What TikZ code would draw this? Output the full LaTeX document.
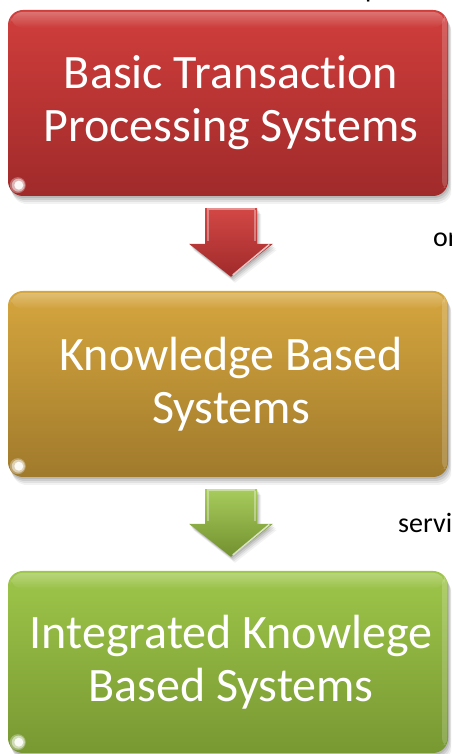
\documentclass[tikz,border=0pt]{standalone}
\usepackage{fontspec}
\setmainfont{Carlito}[Ligatures=NoCommon]
\usetikzlibrary{calc,fadings}

\definecolor{redTop}{RGB}{208,62,60}
\definecolor{redBot}{RGB}{160,42,42}
\definecolor{goldTop}{RGB}{214,166,62}
\definecolor{goldBot}{RGB}{160,122,44}
\definecolor{greenTop}{RGB}{158,198,74}
\definecolor{greenBot}{RGB}{120,152,50}

\tikzset{
  stage/.style={
    rounded corners=15pt, minimum width=440pt, inner sep=0pt,
    preaction={fill=black,opacity=.05,transform canvas={xshift=4pt,yshift=-8pt}},
    preaction={fill=black,opacity=.07,transform canvas={xshift=3pt,yshift=-6pt}},
    preaction={fill=black,opacity=.09,transform canvas={xshift=2pt,yshift=-4pt}},
    preaction={fill=black,opacity=.10,transform canvas={xshift=1pt,yshift=-2pt}},
  },
  stagetext/.style={text=white, align=center, inner sep=0pt,
    font=\fontsize{48}{53}\selectfont, xshift=3pt},
  backword/.style={font=\fontsize{28}{32}\selectfont, text=black, inner sep=0pt, anchor=base west},
}

% glossy trim drawn over a stage box
\newcommand\stagegloss[1]{%
  \fill[white,opacity=.28,path fading=south,rounded corners=12pt]
    ($(#1.north west)+(3,-2)$) rectangle ($(#1.north east)+(-3,-18)$);
  \fill[white,opacity=.18,rounded corners=6pt]
    ($(#1.north east)+(-6,-6)$) rectangle ($(#1.south east)+(-1,8)$);
  \fill[white,opacity=.3] ($(#1.south west)+(10,11)$) circle (8pt);
  \fill[white,opacity=.5] ($(#1.south west)+(10.5,11)$) circle (6.5pt);
  \fill[white,opacity=.9] ($(#1.south west)+(11,11)$) circle (4.5pt);
}

% block arrow running from one stage box down to the next
\newcommand\flowarrow[4]{%
  \coordinate (#1-tail) at ($(#1.south)+(3,-12)$);
  \coordinate (#1-tip) at ($(#2.north)+(3,14)$);
  \foreach \d/\o in {4/.05,3/.07,2/.09,1/.1}{
    \fill[black,opacity=\o,transform canvas={xshift=\d pt,yshift=-1.5*\d pt}]
      ($(#1-tail)+(-26,0)$) -- ($(#1-tail)+(26,0)$) -- ($(#1-tip)+(26,33)$) --
      ($(#1-tip)+(42,33)$) -- (#1-tip) -- ($(#1-tip)+(-42,33)$) --
      ($(#1-tip)+(-26,33)$) -- cycle;
  }
  \shade[top color=#3,bottom color=#4]
    ($(#1-tail)+(-26,0)$) -- ($(#1-tail)+(26,0)$) -- ($(#1-tip)+(26,33)$) --
    ($(#1-tip)+(42,33)$) -- (#1-tip) -- ($(#1-tip)+(-42,33)$) --
    ($(#1-tip)+(-26,33)$) -- cycle;
  \draw[white,opacity=.35,line width=2pt]
    ($(#1-tail)+(-23,-2)$) -- ($(#1-tip)+(-23,36)$);
  \draw[white,opacity=.35,line width=1.5pt]
    ($(#1-tail)+(24,-2)$) -- ($(#1-tip)+(24,36)$);
  \draw[white,opacity=.7,line width=1.5pt,line cap=round]
    ($(#1-tip)+(38,32)$) -- ($(#1-tip)+(2,2)$);
  \draw[white,opacity=.4,line width=1.5pt]
    ($(#1-tail)+(-24,-1)$) -- ($(#1-tail)+(24,-1)$);
}

\begin{document}
\begin{tikzpicture}[x=1pt,y=1pt]
  \useasboundingbox (0,0) rectangle (451,754);
  \clip (0,0) rectangle (451,754);

  % words of the page text peeking out at the right edge
  \node[backword] (wp) at (365,756) {p};
  \node[backword] (wor) at (433,507) {or};
  \node[backword] (wservi) at (398,221) {servi};

  % the three stages
  \node[stage, minimum height=186pt, top color=redTop, bottom color=redBot]
    (b1) at (228,651) {};
  \node[stage, minimum height=186pt, top color=goldTop, bottom color=goldBot]
    (b2) at (228,370) {};
  \node[stage, minimum height=182pt, top color=greenTop, bottom color=greenBot]
    (b3) at (228,92) {};

  \stagegloss{b1}
  \stagegloss{b2}
  \stagegloss{b3}

  \node[stagetext] (t1) at (b1) {Basic Transaction\\Processing Systems};
  \node[stagetext] (t2) at (b2) {Knowledge Based\\Systems};
  \node[stagetext] (t3) at (b3) {Integrated Knowlege\\Based Systems};

  % arrows between stages
  \flowarrow{b1}{b2}{redTop!95!white}{redBot}
  \flowarrow{b2}{b3}{greenTop!90!white}{greenBot!95!black}
\end{tikzpicture}
\end{document}
